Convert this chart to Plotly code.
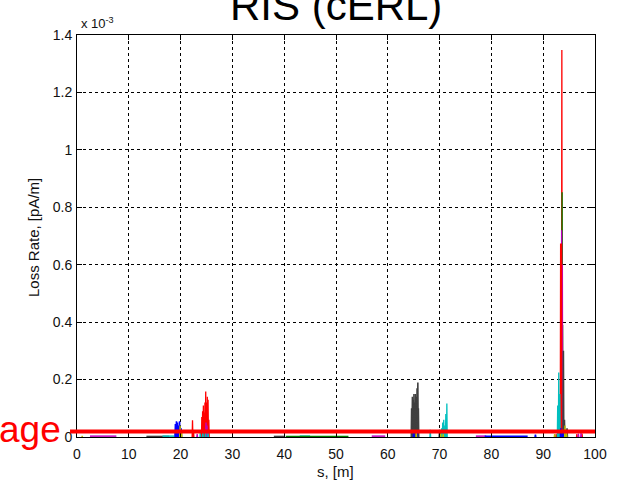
import plotly.graph_objects as go

# ---------------- data (loss rate in units of 1e-3 pA/m) ----------------
title_text = "RIS (cERL)"
x_ticks = [0, 10, 20, 30, 40, 50, 60, 70, 80, 90, 100]
y_ticks = [0, 0.2, 0.4, 0.6, 0.8, 1.0, 1.2, 1.4]
y_tick_labels = ["0", "0.2", "0.4", "0.6", "0.8", "1", "1.2", "1.4"]
average_level = 0.019

# spikes: position s [m] and peak loss value, one pair of lists per colour
red_s = [22.3, 22.5, 24.1, 24.25, 24.4, 24.55, 24.7, 24.85, 25.0, 25.15, 25.3, 25.45, 65.5, 92.5, 93.6, 96.5, 97.5]
red_v = [0.058, 0.02, 0.07, 0.09, 0.11, 0.085, 0.12, 0.158, 0.12, 0.14, 0.13, 0.06, 0.01, 0.01, 1.348, 0.01, 0.012]
green_s = [19.8, 64.9, 65.1, 65.4, 70.9, 93.65, 93.75, 94.0, 94.3]
green_v = [0.01, 0.03, 0.025, 0.02, 0.015, 0.852, 0.39, 0.05, 0.02]
magenta_s = [23.2, 24.9, 25.1, 93.55, 93.7, 96.8, 97.3]
magenta_v = [0.01, 0.05, 0.04, 0.72, 0.6, 0.012, 0.015]
red2_s = [93.45]
red2_v = [0.674]
dark_s = [64.6, 64.75, 64.9, 65.05, 65.2, 65.35, 65.5, 65.65, 65.8, 65.9, 70.0, 70.3, 93.9, 94.1, 94.6]
dark_v = [0.10, 0.14, 0.13, 0.15, 0.12, 0.15, 0.14, 0.17, 0.19, 0.10, 0.025, 0.02, 0.30, 0.06, 0.03]
cyan_s = [19.0, 19.3, 19.6, 20.0, 23.8, 24.3, 24.8, 25.3, 68.2, 70.4, 70.6, 70.8, 71.0, 71.2, 71.4, 92.8, 93.0, 93.2]
cyan_v = [0.02, 0.022, 0.02, 0.018, 0.015, 0.02, 0.02, 0.015, 0.025, 0.03, 0.05, 0.06, 0.04, 0.08, 0.117, 0.11, 0.225, 0.15]
blue_s = [19.0, 19.2, 19.4, 19.6, 19.8, 20.1, 65.0, 65.6, 88.5, 93.4, 93.8]
blue_v = [0.045, 0.055, 0.05, 0.04, 0.055, 0.03, 0.02, 0.015, 0.008, 0.03, 0.02]
yellow_s = [1.0, 19.9, 20.2, 65.5, 70.2, 70.7, 92.2, 94.2, 94.5]
yellow_v = [0.004, 0.04, 0.02, 0.02, 0.012, 0.01, 0.01, 0.04, 0.015]

# low-level background segments: start s, end s, level
magenta_seg_start = [2.5, 56.9, 77.0]
magenta_seg_end = [7.6, 59.5, 79.0]
magenta_seg_level = [0.003, 0.003, 0.003]
dark_seg_start = [13.4, 38.0]
dark_seg_end = [17.8, 40.0]
dark_seg_level = [0.002, 0.002]
cyan_seg_start = [16.5, 43.0]
cyan_seg_end = [18.8, 45.0]
cyan_seg_level = [0.003, 0.003]
green_seg_start = [40.3]
green_seg_end = [52.4]
green_seg_level = [0.002]
blue_seg_start = [78.7]
blue_seg_end = [87.0]
blue_seg_level = [0.003]

COL = {
    "blue": "#0000ff", "green": "#008000", "red": "#ff0000", "cyan": "#00bfbf",
    "magenta": "#bf00bf", "yellow": "#bfbf00", "dark": "#404040",
}

HALF_W = 0.07


def spike_xy(ss, vs):
    xs, ys = [], []
    for s, v in zip(ss, vs):
        xs += [s - HALF_W, s, s + HALF_W, None]
        ys += [0, v, 0, None]
    return xs, ys


def seg_xy(a, b, lv):
    xs, ys = [], []
    for s0, s1, v in zip(a, b, lv):
        xs += [s0, s1, None]
        ys += [v, v, None]
    return xs, ys


fig = go.Figure()

for cname, (a, b, lv) in {
    "magenta": (magenta_seg_start, magenta_seg_end, magenta_seg_level),
    "dark": (dark_seg_start, dark_seg_end, dark_seg_level),
    "cyan": (cyan_seg_start, cyan_seg_end, cyan_seg_level),
    "green": (green_seg_start, green_seg_end, green_seg_level),
    "blue": (blue_seg_start, blue_seg_end, blue_seg_level),
}.items():
    xs, ys = seg_xy(a, b, lv)
    fig.add_trace(go.Scatter(x=xs, y=ys, mode="lines", line=dict(color=COL[cname], width=1.5),
                             hoverinfo="skip", showlegend=False))

for cname, ss, vs, w in [
    ("red", red_s, red_v, 1.3),
    ("green", green_s, green_v, 1.3),
    ("magenta", magenta_s, magenta_v, 1.3),
    ("red", red2_s, red2_v, 2.2),
    ("dark", dark_s, dark_v, 1.6),
    ("cyan", cyan_s, cyan_v, 1.3),
    ("blue", blue_s, blue_v, 1.6),
    ("yellow", yellow_s, yellow_v, 1.3),
]:
    xs, ys = spike_xy(ss, vs)
    fig.add_trace(go.Scatter(x=xs, y=ys, mode="lines", line=dict(color=COL[cname], width=w),
                             hoverinfo="skip", showlegend=False))

W, H = 619, 481
L, R, T, B = 77, 21, 35, 43.5
pw, ph = W - L - R, H - T - B
FONT = "Liberation Sans, Arial, sans-serif"

axis_common = dict(
    showline=True, linecolor="black", linewidth=1, mirror="ticks",
    ticks="inside", ticklen=5, tickcolor="black", tickwidth=1,
    showgrid=True, gridcolor="black", gridwidth=1, griddash="3px,3px",
    zeroline=False, tickfont=dict(family=FONT, size=14, color="#111"),
)

fig.update_layout(
    width=W, height=H, margin=dict(l=L, r=R, t=T, b=B),
    paper_bgcolor="white", plot_bgcolor="white",
    xaxis=dict(range=[0, 100], tickvals=x_ticks, ticktext=[str(v) for v in x_ticks],
               ticklabelstandoff=4, **axis_common),
    yaxis=dict(range=[0, 1.4], tickvals=y_ticks, ticktext=y_tick_labels,
               ticklabelstandoff=1, **axis_common),
)

# average level line
fig.add_shape(type="line", xref="paper", yref="y", x0=(70 - L) / pw, x1=1, y0=average_level, y1=average_level,
              line=dict(color="#ff0000", width=4), layer="above")

ann = []
ann.append(dict(text=title_text, xref="paper", yref="paper", x=0.5, y=1 + (T - 5) / ph,
                xanchor="center", yanchor="middle", showarrow=False,
                font=dict(family=FONT, size=42, color="black")))
ann.append(dict(text="x 10<sup>-3</sup>", xref="paper", yref="paper", x=(79 - L) / pw, y=1 + (T - 23) / ph,
                xanchor="left", yanchor="middle", showarrow=False,
                font=dict(family=FONT, size=13, color="#111")))
ann.append(dict(text="Loss Rate, [pA/m]", xref="paper", yref="paper", x=(33 - L) / pw, y=(437.5 - 238) / ph,
                xanchor="center", yanchor="middle", textangle=-90, showarrow=False,
                font=dict(family=FONT, size=15, color="#111")))
ann.append(dict(text="s, [m]", xref="paper", yref="paper", x=(337 - L) / pw, y=-(472 - (T + ph)) / ph,
                xanchor="center", yanchor="middle", showarrow=False,
                font=dict(family=FONT, size=15, color="#111")))
ann.append(dict(text="age", xref="paper", yref="paper", x=(63 - L) / pw, y=-(430 - (T + ph)) / ph,
                xanchor="right", yanchor="middle", showarrow=False,
                font=dict(family=FONT, size=37, color="#ff0000")))
fig.update_layout(annotations=ann)

fig.write_html("out.html")
